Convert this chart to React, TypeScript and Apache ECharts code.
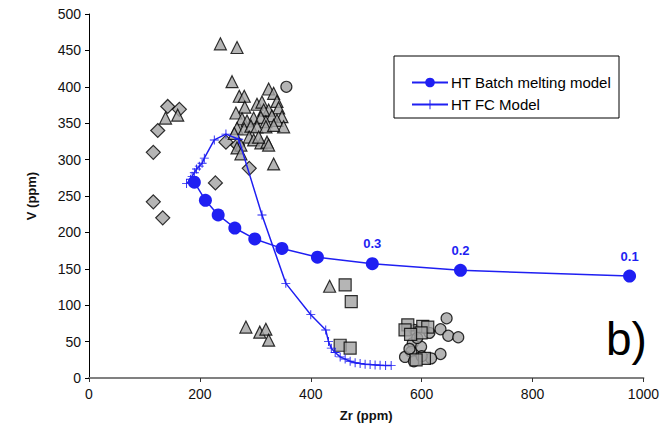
import React, { useEffect, useRef } from "react";
import * as echarts from "echarts";

const xTicks = [0, 200, 400, 600, 800, 1000];
const yTicks = [0, 50, 100, 150, 200, 250, 300, 350, 400, 450, 500];

const batchMelting: [number, number][] = [
  [190, 269], [210, 244], [233, 224], [263, 206], [299, 191],
  [348, 178], [412, 166], [511, 157], [670, 148], [975, 140],
];
const batchLabels = ["", "", "", "", "", "", "", "0.3", "0.2", "0.1"];

const fcModel: [number, number][] = [
  [176, 267], [183, 273], [186, 277], [190, 282], [194, 287], [199, 291],
  [204, 295], [208, 302], [226, 327], [247, 335], [270, 328], [312, 224],
  [355, 130], [400, 87], [427, 66], [432, 50], [437, 41], [444, 35],
  [453, 29], [462, 26], [471, 23], [480, 21], [489, 20], [498, 19],
  [507, 18.5], [516, 18], [525, 17.5], [535, 17], [545, 17],
];

const diamonds: [number, number][] = [
  [142, 373], [163, 369], [124, 340], [116, 310], [247, 324], [289, 288],
  [228, 268], [116, 242], [133, 220], [268, 320],
];

const triangles: [number, number][] = [
  [237, 459], [267, 454], [258, 407], [324, 397], [333, 391], [271, 387],
  [280, 387], [339, 380], [303, 376], [312, 379], [281, 372], [342, 371],
  [324, 368], [315, 368], [265, 364], [348, 359], [297, 357], [310, 358],
  [330, 360], [276, 356], [285, 353], [319, 352], [339, 354], [351, 345],
  [267, 343], [280, 342], [292, 346], [303, 345], [319, 345], [333, 347],
  [262, 336], [289, 331], [297, 327], [310, 323], [321, 324], [324, 320],
  [306, 331], [274, 320], [267, 316], [274, 308], [333, 294], [138, 357],
  [160, 361], [434, 126], [283, 70], [308, 63], [319, 67], [324, 52],
];

const circles: [number, number][] = [
  [356, 400], [645, 82], [634, 67], [648, 58], [666, 56], [614, 62],
  [587, 66], [584, 48], [599, 43], [581, 36], [570, 29], [586, 23],
  [634, 33], [617, 27], [600, 30], [592, 55], [578, 40],
];

const squares: [number, number][] = [
  [462, 128], [473, 105], [453, 45], [471, 41], [575, 73], [570, 66],
  [602, 71], [611, 70], [599, 62], [605, 27], [590, 25], [580, 60],
];

const BLUE = "#1f1ff2";
const GREY = "#a3a3a3";
const FONT = "Liberation Sans";
const PLUS = "path://M-1,-10H1V-1H10V1H1V10H-1V1H-10V-1H-1Z";

export default function App() {
  const ref = useRef<HTMLDivElement>(null);
  useEffect(() => {
    if (!ref.current) return;
    const chart = echarts.init(ref.current, null, { renderer: "svg" });
    const grayStyle = { color: GREY, borderColor: "#000", borderWidth: 1.2 };
    chart.setOption({
      animation: false,
      textStyle: { fontFamily: FONT },
      grid: { left: 89, right: 15, top: 14, bottom: 57 },
      xAxis: {
        type: "value",
        min: xTicks[0],
        max: xTicks[xTicks.length - 1],
        interval: 200,
        name: "Zr (ppm)",
        nameLocation: "middle",
        nameGap: 31,
        nameTextStyle: { fontFamily: FONT, fontSize: 13, fontWeight: "bold", color: "#111" },
        axisLine: { lineStyle: { color: "#808080", width: 2 } },
        axisTick: { length: 4, lineStyle: { color: "#333" } },
        axisLabel: {
          fontFamily: FONT, fontSize: 14, color: "#111", margin: 9,
          formatter: (v: number) => String(v),
        },
        splitLine: { show: false },
      },
      yAxis: {
        type: "value",
        min: yTicks[0],
        max: yTicks[yTicks.length - 1],
        interval: 50,
        name: "V (ppm)",
        nameLocation: "middle",
        nameGap: 51,
        nameRotate: 90,
        nameTextStyle: { fontFamily: FONT, fontSize: 13, fontWeight: "bold", color: "#111" },
        axisLine: { show: true, lineStyle: { color: "#000", width: 1 } },
        axisTick: { show: true, length: 4, lineStyle: { color: "#000" } },
        axisLabel: { fontFamily: FONT, fontSize: 14, color: "#111", margin: 8 },
        splitLine: { show: false },
      },
      legend: {
        orient: "vertical",
        left: 406,
        top: 70,
        itemGap: 7,
        itemWidth: 36,
        itemHeight: 12,
        data: ["HT Batch melting model", "HT FC Model"],
        textStyle: { fontFamily: FONT, fontSize: 15, color: "#000", padding: [0, 0, 0, -2] },
      },
      graphic: [
        {
          type: "rect",
          shape: { x: 394, y: 56, width: 225, height: 62 },
          style: { fill: "#fff", stroke: "#000", lineWidth: 1 },
          z: -1,
        },
        {
          type: "text",
          x: 606,
          y: 316,
          style: { text: "b)", font: "46px Liberation Sans", fill: "#000" },
        },
      ],
      series: [
        { name: "diamonds", type: "scatter", symbol: "diamond", symbolSize: 14, data: diamonds, itemStyle: grayStyle, z: 2 },
        { name: "triangles", type: "scatter", symbol: "triangle", symbolSize: 12, data: triangles, itemStyle: grayStyle, z: 2 },
        { name: "circles", type: "scatter", symbol: "circle", symbolSize: 11, data: circles, itemStyle: grayStyle, z: 2 },
        { name: "squares", type: "scatter", symbol: "rect", symbolSize: 12, data: squares, itemStyle: grayStyle, z: 2 },
        {
          name: "HT FC Model",
          type: "line",
          data: fcModel,
          symbol: PLUS,
          symbolSize: 9,
          showAllSymbol: true,
          lineStyle: { color: BLUE, width: 1.5 },
          itemStyle: { color: BLUE },
          z: 5,
        },
        {
          name: "HT Batch melting model",
          type: "line",
          data: batchMelting.map((d, i) => ({
            value: d,
            label: {
              show: batchLabels[i] !== "",
              formatter: batchLabels[i],
              position: "top",
              distance: 7,
              color: BLUE,
              fontFamily: FONT,
              fontSize: 13,
              fontWeight: "bold",
            },
          })),
          symbol: "circle",
          symbolSize: 13,
          showAllSymbol: true,
          lineStyle: { color: BLUE, width: 1.5 },
          itemStyle: { color: BLUE },
          z: 6,
        },
      ],
    });
    return () => chart.dispose();
  }, []);
  return <div ref={ref} style={{ width: 662, height: 435, position: "absolute", left: 0, top: 0 }} />;
}
